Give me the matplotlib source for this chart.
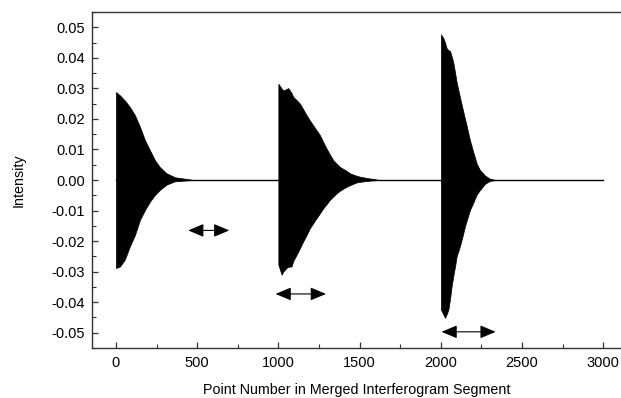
import matplotlib.pyplot as plt
from matplotlib.ticker import MultipleLocator

plt.rcParams['font.family'] = ['Liberation Sans', 'DejaVu Sans']

# Envelope of each decaying interferogram burst
fid1_x = [0, 25, 55, 86, 117, 148, 179, 209, 240, 271, 312, 363, 443, 480]
fid1_top = [0.0288, 0.0277, 0.0260, 0.0239, 0.0212, 0.0174, 0.0130, 0.0098,
            0.0065, 0.0042, 0.0022, 0.0009, 0.0003, 0.0]
fid1_bot = [-0.0288, -0.0283, -0.0260, -0.0217, -0.0180, -0.0130, -0.0098,
            -0.0071, -0.0049, -0.0032, -0.0015, -0.0004, -0.0001, 0.0]

fid2_x = [1000, 1020, 1030, 1050, 1061, 1081, 1092, 1112, 1133, 1153, 1174,
          1194, 1215, 1235, 1256, 1276, 1297, 1317, 1338, 1358, 1379, 1420,
          1441, 1481, 1502, 1563, 1584, 1620]
fid2_top = [0.0315, 0.0300, 0.0293, 0.0298, 0.0301, 0.0285, 0.0272, 0.0262,
            0.0250, 0.0232, 0.0212, 0.0195, 0.0179, 0.0163, 0.0147, 0.0125,
            0.0103, 0.0084, 0.0065, 0.0054, 0.0043, 0.0030, 0.0022, 0.0014,
            0.0011, 0.0005, 0.0004, 0.0]
fid2_bot = [-0.0277, -0.0310, -0.0300, -0.0288, -0.0284, -0.0283, -0.0265,
            -0.0245, -0.0223, -0.0201, -0.0180, -0.0158, -0.0141, -0.0125,
            -0.0109, -0.0093, -0.0079, -0.0065, -0.0054, -0.0044, -0.0035,
            -0.0022, -0.0017, -0.0008, -0.0006, -0.0002, -0.0001, 0.0]

fid3_x = [2001, 2016, 2026, 2036, 2047, 2057, 2067, 2077, 2088, 2098, 2118,
          2139, 2149, 2159, 2180, 2200, 2211, 2221, 2241, 2252, 2272, 2283,
          2303, 2313, 2340]
fid3_top = [0.0477, 0.0465, 0.0450, 0.0432, 0.0425, 0.0423, 0.0405, 0.0386,
            0.0352, 0.0320, 0.0272, 0.0223, 0.0201, 0.0179, 0.0130, 0.0092,
            0.0073, 0.0054, 0.0033, 0.0027, 0.0015, 0.0011, 0.0004, 0.0003,
            0.0]
fid3_bot = [-0.0424, -0.0440, -0.0451, -0.0440, -0.0424, -0.0390, -0.0348,
            -0.0315, -0.0283, -0.0250, -0.0217, -0.0174, -0.0152, -0.0134,
            -0.0098, -0.0075, -0.0060, -0.0048, -0.0033, -0.0026, -0.0013,
            -0.0009, -0.0003, -0.0002, 0.0]

baseline_x = [0, 3000]
baseline_y = [0.0, 0.0]

# double arrows: start, end, level
arrow_x0 = [445, 983, 2005]
arrow_x1 = [698, 1293, 2338]
arrow_y = [-0.0165, -0.0373, -0.0497]

fig = plt.figure(figsize=(6.21, 3.98), dpi=100)
ax = fig.add_axes([0.148, 0.1256, 0.852, 0.8442])

ax.plot(baseline_x, baseline_y, color='black', lw=1.0)
for xs, top, bot in [(fid1_x, fid1_top, fid1_bot),
                     (fid2_x, fid2_top, fid2_bot),
                     (fid3_x, fid3_top, fid3_bot)]:
    ax.fill_between(xs, bot, top, color='black', lw=0.5, edgecolor='black')

for x0, x1, y in zip(arrow_x0, arrow_x1, arrow_y):
    ax.annotate('', xy=(x1, y), xytext=(x0, y),
                arrowprops=dict(arrowstyle='<|-|>,head_length=0.95,head_width=0.4',
                                color='black', lw=0.8,
                                shrinkA=0, shrinkB=0))

ax.set_xlim(-148, 3110)
ax.set_ylim(-0.055, 0.055)
ax.xaxis.set_major_locator(MultipleLocator(500))
ax.xaxis.set_minor_locator(MultipleLocator(250))
ax.yaxis.set_major_locator(MultipleLocator(0.01))
ax.yaxis.set_minor_locator(MultipleLocator(0.005))
ax.yaxis.set_major_formatter(
    plt.FuncFormatter(lambda v, p: f'{v:.2f}'.replace('-0.00', '0.00')))

ax.tick_params(which='both', direction='in', labelsize=10.5, color='#333333')
ax.tick_params(which='major', length=4.5, width=0.9, pad=6)
ax.tick_params(which='minor', length=2.8, width=0.8)
ax.tick_params(axis='y', which='major', pad=5)

ax.spines['right'].set_visible(False)
for s in ['left', 'bottom', 'top']:
    ax.spines[s].set_linewidth(1.0)
    ax.spines[s].set_color('#333333')

ax.set_xlabel('Point Number in Merged Interferogram Segment', fontsize=10.3)
ax.set_ylabel('Intensity', fontsize=10.3)
ax.xaxis.set_label_coords(0.5, -0.105)
ax.yaxis.set_label_coords(-0.125, 0.5)

fig.savefig('out.png', dpi=100)
